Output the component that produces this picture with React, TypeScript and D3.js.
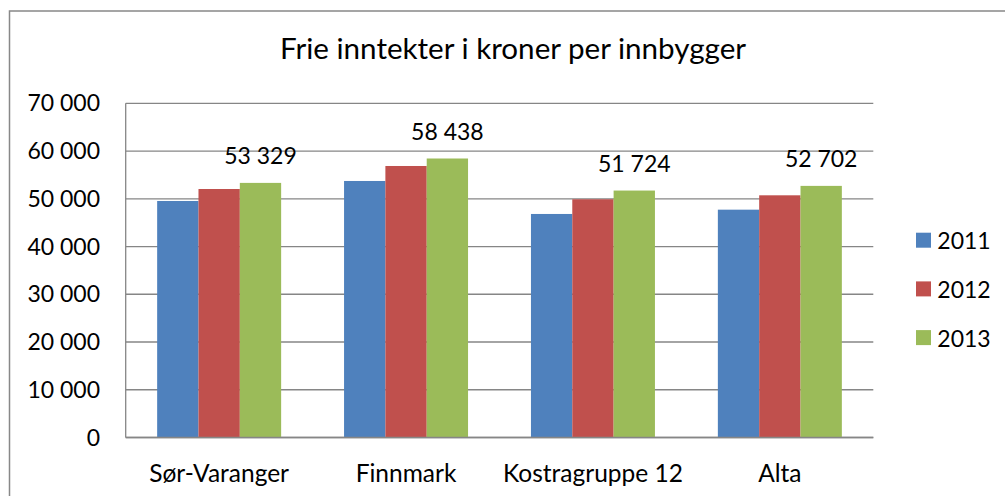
import React from "react";
import * as d3 from "d3";

const categories = ["Sør-Varanger", "Finnmark", "Kostragruppe 12", "Alta"];
const series = ["2011", "2012", "2013"];
const values2011 = [49540, 53730, 46820, 47720];
const values2012 = [52050, 56870, 49900, 50730];
const values2013 = [53329, 58438, 51724, 52702];
const yTicks = [0, 10000, 20000, 30000, 40000, 50000, 60000, 70000];
const colors = ["#4F81BD", "#C0504D", "#9BBB59"];
const title = "Frie inntekter i kroner per innbygger";

const W = 1005;
const H = 496;
const FONT = "Lato, 'Open Sans', sans-serif";

const locale = d3.formatLocale({ decimal: ",", thousands: " ", grouping: [3], currency: ["", ""] });
const fmt = locale.format(",d");

export default function App() {
  const left = 125.7;
  const right = 873.3;
  const top = 103.3;
  const bottom = 437.5;

  const x0 = d3.scaleBand<string>().domain(categories).range([left, right]).paddingInner(0.3366).paddingOuter(0.3366 / 2);
  const x1 = d3.scaleBand<string>().domain(series).range([0, x0.bandwidth()]).padding(0);
  const y = d3.scaleLinear().domain([0, 70000]).range([bottom, top]);

  const allValues = [values2011, values2012, values2013];

  return (
    <svg width={W} height={H} style={{ position: "absolute", left: 0, top: 0, background: "#fff" }} fontFamily={FONT}>
      <rect x={0} y={0} width={W} height={H} fill="#fff" />
      <rect x={9.5} y={11} width={1010} height={500} fill="none" stroke="#888" strokeWidth={1.5} />
      <text x={513} y={59.3} textAnchor="middle" fontSize={29.6} fill="#000">{title}</text>

      {yTicks.map((t) => (
        <g key={t}>
          <line x1={left} x2={right} y1={y(t)} y2={y(t)} stroke="#868686" strokeWidth={1.3} />
          <text x={100} y={y(t) + 8} textAnchor="end" fontSize={23} fill="#000">{fmt(t)}</text>
        </g>
      ))}
      <line x1={left} x2={left} y1={top} y2={bottom} stroke="#868686" strokeWidth={1.3} />

      {categories.map((c, i) => (
        <g key={c}>
          {series.map((s, j) => {
            const v = allValues[j][i];
            return (
              <rect key={s} x={(x0(c) as number) + (x1(s) as number)} y={y(v)} width={x1.bandwidth()} height={bottom - y(v)} fill={colors[j]} />
            );
          })}
          <text
            x={(x0(c) as number) + (x1("2013") as number) + x1.bandwidth() / 2}
            y={y(values2013[i]) - 19}
            textAnchor="middle"
            fontSize={23}
            fill="#000"
          >
            {fmt(values2013[i])}
          </text>
          <text x={(x0(c) as number) + x0.bandwidth() / 2} y={481.7} textAnchor="middle" fontSize={24.5} fill="#000">{c}</text>
        </g>
      ))}
      <line x1={left} x2={right} y1={bottom} y2={bottom} stroke="#868686" strokeWidth={1.3} />

      {series.map((s, j) => (
        <g key={s}>
          <rect x={916} y={232.7 + j * 48.7} width={15} height={15} fill={colors[j]} />
          <text x={937.3} y={249.3 + j * 48.7} fontSize={23} fill="#000">{s}</text>
        </g>
      ))}
    </svg>
  );
}
